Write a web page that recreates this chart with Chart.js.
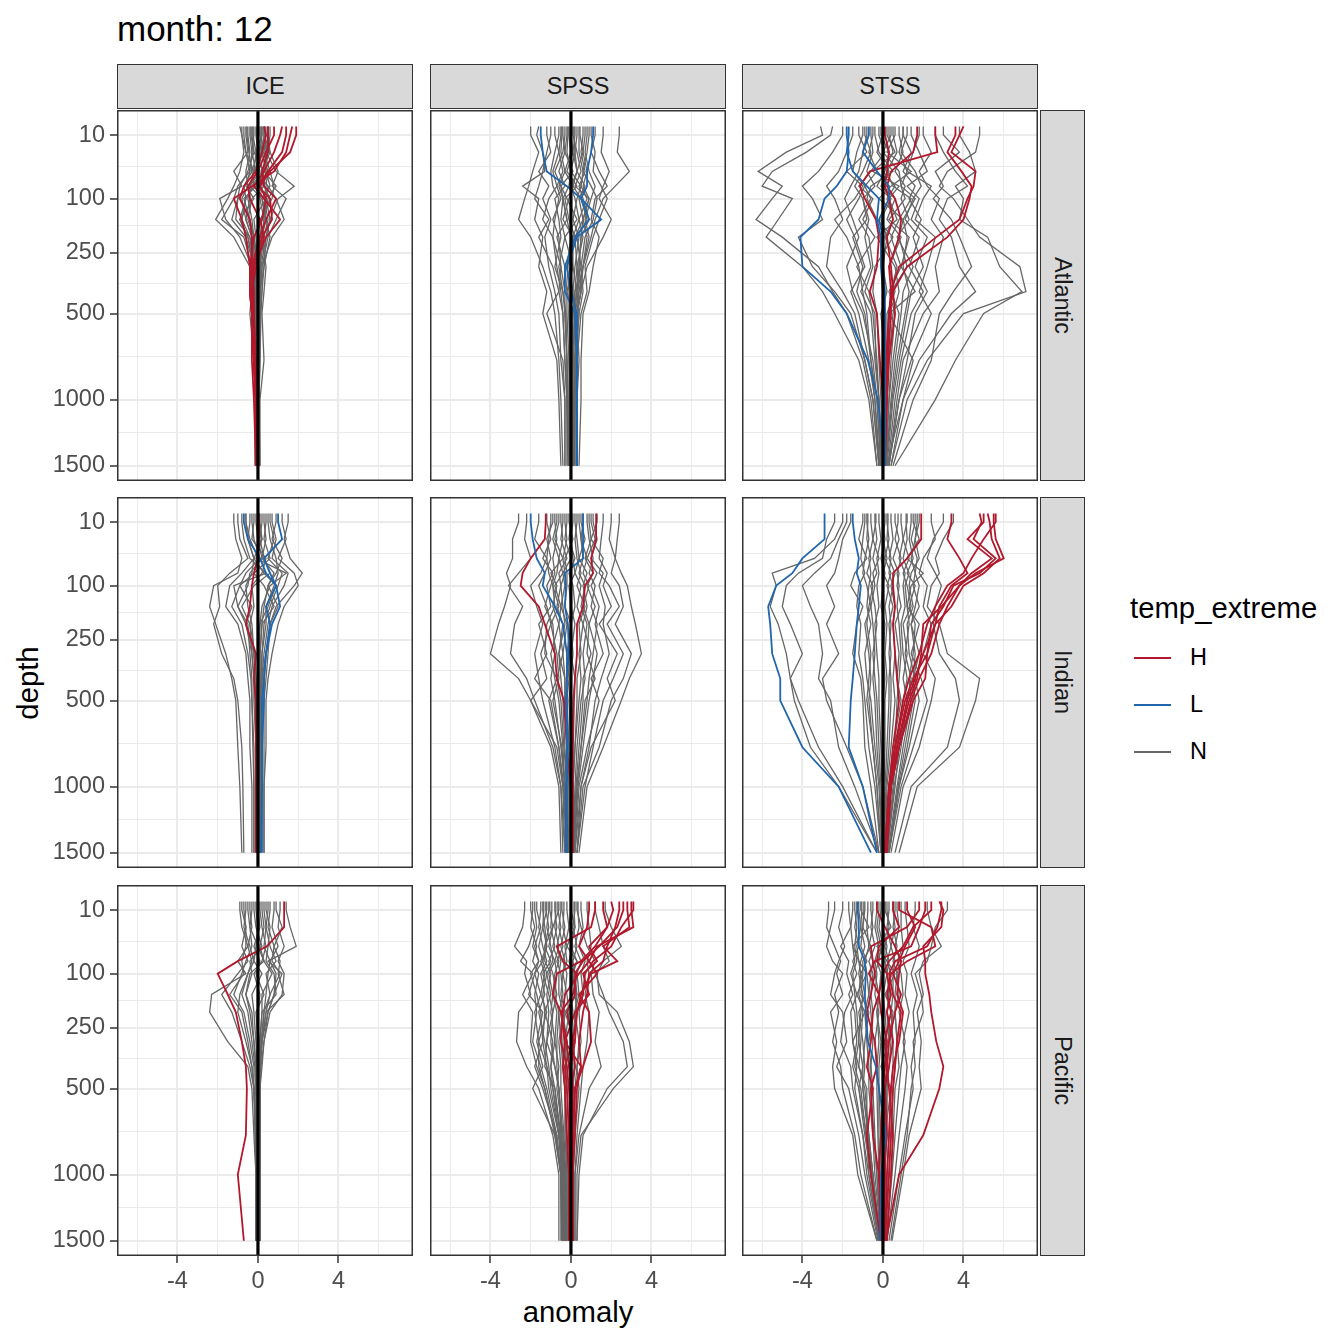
<!DOCTYPE html>
<html>
<head>
<meta charset="utf-8">
<script src="https://cdn.jsdelivr.net/npm/chart.js@4.4.1/dist/chart.umd.min.js"></script>
<style>
  body { margin: 0; width: 1344px; height: 1344px; background: #fff; position: relative; overflow: hidden;
         font-family: "Liberation Sans", Arial, sans-serif; }
  .box { position: absolute; }
  .strip { position: absolute; background: #d9d9d9; border: 1.5px solid #333; box-sizing: border-box;
           display: flex; align-items: center; justify-content: center; font-size: 23.5px; color: #1a1a1a; }
  .strip.right span { writing-mode: vertical-rl; }
  .txt { position: absolute; white-space: nowrap; line-height: 1; }
  .key { position: absolute; width: 37px; height: 2px; }
</style>
</head>
<body>
<div class="txt" style="left:117px; top:11px; font-size:35px; color:#000;">month: 12</div>
<div class="txt" style="left:28px; top:683px; font-size:29.3px; transform:translate(-50%,-50%) rotate(-90deg);">depth</div>
<div class="txt" style="left:578px; top:1312px; font-size:29.3px; transform:translate(-50%,-50%);">anomaly</div>
<div class="txt" style="left:1130px; top:608px; font-size:29.3px; transform:translateY(-50%);">temp_extreme</div>
<div id="legend"></div>
<div id="grid"></div>
<script>
// depth levels (m) shared by every profile
const depth = [5, 10, 25, 50, 75, 100, 150, 200, 300, 400, 500, 750, 1000, 1500];
const zones = ['ICE', 'SPSS', 'STSS'];
const regions = ['Atlantic', 'Indian', 'Pacific'];
const xTicks = [-4, 0, 4];
const xMinor = [-6, -2, 2, 6];
const yTicks = [10, 100, 250, 500, 1000, 1500];
const extremes = ['H', 'L', 'N'];
const colors = { H: '#b2182b', L: '#2166ac', N: '#666666' };

// ---- ICE / Atlantic
const iceAtlanticN = [
  [-0.8,-0.8,-0.7,-0.9,-1.2,-1.5,-2.1,-1.2,-0.4,-0.2,-0.2,-0.15,-0.1,-0.1],
  [-0.6,-0.6,-0.5,-1.2,-0.8,-1.9,-1.6,-0.9,-0.3,-0.3,-0.2,-0.1,-0.1,-0.05],
  [0.5,0.5,0.4,0.9,1.8,1.0,0.6,0.4,0.3,0.2,0.15,0.1,0.05,0.05],
  [0.3,0.3,0.6,1.0,0.7,1.4,0.9,0.5,0.2,0.1,0.1,0.1,0.05,0.1],
  [-0.3,-0.3,-0.2,-0.5,-0.9,-1.0,-1.3,-0.6,-0.2,-0.1,-0.1,0,0,-0.05],
  [0.1,0.1,0.2,0.4,0.3,0.6,0.2,0.1,0.1,0.05,0,0,0,0],
  [-0.1,-0.1,0,-0.3,-0.2,-0.6,-0.8,-0.4,-0.1,-0.1,-0.05,-0.05,0,0],
  [0.6,0.6,0.5,0.3,0.9,0.5,0.3,0.2,0.4,0.3,0.2,0.3,0.1,0.1],
  [-0.9,-0.8,-0.6,-0.4,-1.0,-1.2,-1.8,-0.7,-0.3,-0.3,-0.4,-0.2,-0.15,-0.15],
  [0.2,0.2,-0.1,0.1,-0.4,0.2,0.4,0.6,0.3,0.1,0.1,0,0.05,0],
  [-0.4,-0.4,-0.3,-0.1,0.3,-0.3,-0.5,-0.2,0,-0.1,0,0,0,0],
  [0.4,0.4,0.3,-0.2,0.5,0.9,1.3,0.7,0.2,0.2,0.1,0.05,0,0.05],
  [-0.5,-0.5,-0.4,-0.6,-0.5,-0.8,-0.6,-0.3,-0.15,-0.1,-0.1,-0.05,-0.05,-0.05],
  [0.0,0.0,0.1,0.2,-0.3,-0.5,-0.3,-0.2,0.05,0,0,0,0,0],
  [0.3,0.3,0.2,0.5,0.4,0.3,0.5,0.3,0.1,0.1,0.05,0.05,0.05,0.05],
  [-0.2,-0.2,-0.3,-0.4,-0.6,-0.2,-0.9,-0.5,-0.2,-0.15,-0.1,-0.1,-0.05,-0.05],
  [0.15,0.15,0.3,0.6,0.8,0.7,0.1,0.0,-0.1,0,0.05,0,0,0],
  [-0.7,-0.7,-0.6,-0.2,-0.4,-1.0,-1.1,-0.4,-0.25,-0.2,-0.15,-0.1,-0.1,-0.1],
  [0.5,0.5,0.6,0.2,0.1,0.4,0.6,0.4,0.15,0.1,0.1,0.05,0.05,0.05],
  [-0.05,-0.05,0.0,-0.1,0.5,0.4,-0.2,-0.1,0,-0.05,0,0,0,0],
  [0.2,0.2,0.1,0.0,-0.1,-0.7,-0.4,-0.2,-0.1,-0.05,-0.05,-0.05,0,0],
  [-0.35,-0.35,-0.2,0.3,0.2,0.1,0.3,0.2,0.05,0.05,0,0,0,0],
  [-0.25,-0.25,-0.1,-0.2,-0.4,-0.4,-0.6,-0.3,-0.1,-0.1,-0.05,-0.05,0,0],
  [0.35,0.35,0.4,0.4,0.6,0.2,0.4,0.2,0.1,0.05,0.05,0.05,0.05,0.05],
  [-0.55,-0.55,-0.45,-0.3,-0.7,-0.6,-0.9,-0.5,-0.2,-0.15,-0.1,-0.1,-0.05,-0.05]
];
const iceAtlanticH = [
  [1.9,1.9,1.6,0.6,0.1,0.4,0.2,-0.2,-0.4,-0.4,-0.3,-0.2,-0.1,-0.1],
  [1.7,1.6,1.4,0.8,-0.3,-1.2,-0.8,-0.6,-0.4,-0.4,-0.3,-0.3,-0.2,-0.1],
  [1.2,1.1,0.8,0.3,-0.2,0.3,1.1,0.4,-0.2,-0.3,-0.2,-0.2,-0.1,-0.1],
  [0.8,0.8,0.4,0.0,-0.5,-0.4,0.1,0.3,-0.1,-0.3,-0.3,-0.2,-0.1,0],
  [0.5,0.5,0.5,0.2,0.3,0.9,0.4,0.1,-0.3,-0.2,-0.2,-0.1,-0.1,0],
  [0.3,0.4,0.2,-0.1,-0.7,-0.9,-0.4,-0.3,-0.3,-0.4,-0.3,-0.2,-0.1,-0.1],
  [1.4,1.4,1.2,0.5,0.0,0.6,0.7,0.2,-0.2,-0.3,-0.2,-0.2,-0.1,-0.05]
];
const iceAtlanticL = [];

// ---- SPSS / Atlantic
const spssAtlanticN = [
  [-2.0,-2.0,-1.6,-1.9,-2.1,-2.3,-2.6,-2.0,-1.4,-1.0,-0.8,-0.6,-0.5,-0.4],
  [-1.6,-1.7,-1.4,-1.3,-2.4,-1.6,-1.8,-1.4,-1.6,-1.2,-1.4,-0.7,-0.6,-0.5],
  [2.4,2.4,2.3,2.9,2.2,1.6,1.2,1.0,0.6,0.3,0.4,0.2,0.2,0.2],
  [1.6,1.6,1.5,1.9,1.6,1.4,2.0,1.6,0.8,0.5,0.3,0.4,0.3,0.3],
  [1.2,1.2,1.0,1.4,1.8,1.2,1.0,1.4,1.1,0.9,0.6,0.5,0.5,0.4],
  [-1.2,-1.2,-1.0,-1.6,-1.1,-1.4,-1.0,-1.3,-1.1,-0.8,-0.6,-0.5,-0.3,-0.3],
  [-0.8,-0.8,-0.6,-0.9,-0.7,-1.1,-1.4,-0.9,-0.7,-0.5,-0.4,-0.3,-0.2,-0.2],
  [0.8,0.8,0.7,0.9,1.2,1.0,0.7,0.9,0.6,0.5,0.3,0.3,0.2,0.2],
  [-0.4,-0.4,-0.3,-0.6,-0.3,-0.8,-0.6,-0.5,-0.8,-0.4,-0.3,-0.2,-0.2,-0.1],
  [0.4,0.4,0.4,0.6,0.5,0.8,0.4,0.6,0.3,0.4,0.2,0.1,0.1,0.1],
  [0,0,0.1,-0.2,0.3,-0.3,-0.1,0.2,-0.2,0,-0.1,0,0,0],
  [-0.2,-0.2,-0.3,0.1,-0.5,-0.2,0.3,-0.3,0.1,-0.2,0.1,-0.1,0,-0.05],
  [0.2,0.2,0.1,0.3,0.1,0.5,0.8,0.3,0.5,0.2,0.2,0.1,0.1,0.1],
  [-1.0,-1.0,-1.2,-1.4,-1.6,-1.8,-1.1,-1.6,-0.9,-0.6,-1.2,-0.4,-0.3,-0.3],
  [1.0,1.0,1.2,1.1,1.5,1.8,1.4,1.1,0.7,0.8,0.5,0.3,0.2,0.15],
  [-0.5,-0.5,-0.6,-0.4,-0.7,-0.5,-0.9,-0.6,-0.5,-0.3,-0.3,-0.2,-0.15,-0.1],
  [0.6,0.6,0.5,0.7,0.4,0.6,0.9,0.5,0.4,0.3,0.2,0.2,0.15,0.1],
  [-0.1,-0.1,0.0,-0.3,0.1,-0.1,-0.4,0.1,-0.1,0.1,0,0,0,0],
  [0.3,0.3,0.2,0.0,0.5,0.3,0.1,0.4,0.2,0.1,0.2,0.1,0.05,0.05],
  [-0.3,-0.3,-0.4,-0.8,-0.5,-0.4,-0.2,-0.7,-0.3,-0.2,-0.2,-0.1,-0.1,-0.1],
  [0.1,0.1,0.3,0.5,0.2,0.9,0.6,0.2,0.3,0.2,0.1,0.05,0.05,0],
  [-0.6,-0.6,-0.8,-1.0,-0.9,-0.6,-0.8,-0.9,-0.5,-0.6,-0.4,-0.3,-0.2,-0.15],
  [0.9,0.9,0.8,0.6,1.0,1.3,1.1,0.7,0.5,0.6,0.4,0.25,0.2,0.15],
  [-0.45,-0.45,-0.5,-0.3,-0.6,-0.4,-0.5,-0.3,-0.6,-0.4,-0.25,-0.2,-0.15,-0.1],
  [0.45,0.45,0.6,0.3,0.7,0.4,0.6,0.5,0.4,0.5,0.3,0.2,0.15,0.1],
  [0.7,0.7,0.6,0.8,0.6,0.9,0.6,0.8,0.6,0.4,0.3,0.2,0.15,0.1],
  [-0.15,-0.15,-0.2,0.0,-0.1,-0.4,-0.2,0.0,-0.2,-0.1,-0.1,-0.05,-0.05,-0.05],
  [0.15,0.15,0.2,0.3,0.0,0.2,0.4,0.1,0.1,0.3,0.1,0.1,0.05,0.05]
];
const spssAtlanticH = [];
const spssAtlanticL = [
  [-1.5,-1.5,-1.4,-1.2,-0.2,0.5,0.9,0.2,-0.3,-0.3,0.2,0.3,0.3,0.3],
  [1.1,1.1,1.0,0.8,0.8,0.5,1.5,0.3,-0.2,0,0.3,0.3,0.3,0.3]
];

// ---- STSS / Atlantic
const stssAtlanticN = [
  [-3.1,-3.0,-4.8,-6.2,-5.0,-5.5,-6.3,-5.0,-3.2,-2.5,-1.8,-1.0,-0.6,-0.3],
  [-2.5,-2.6,-3.8,-5.5,-6.0,-4.5,-5.2,-5.8,-4.0,-3.0,-2.4,-1.2,-0.7,-0.3],
  [-2.0,-2.0,-2.5,-3.2,-4.0,-3.5,-3.0,-4.2,-3.5,-2.4,-1.6,-0.9,-0.5,-0.2],
  [4.8,4.8,4.6,3.2,2.8,3.5,4.2,4.8,6.8,7.1,4.0,2.2,1.2,0.4],
  [3.8,3.8,4.3,4.6,3.6,4.0,3.8,5.2,5.8,6.9,5.0,3.6,2.6,0.6],
  [3.0,3.0,3.8,2.6,3.0,2.5,3.4,3.8,4.4,3.5,2.8,2.4,1.5,0.5],
  [-1.5,-1.5,-1.8,-2.2,-2.8,-2.4,-2.0,-2.6,-2.8,-2.0,-1.4,-0.9,-0.5,-0.2],
  [2.0,2.0,2.4,1.8,2.2,2.8,2.4,3.0,2.6,2.8,2.0,1.0,0.7,0.3],
  [-0.8,-0.8,-1.0,-1.2,-1.6,-1.9,-1.5,-1.2,-1.8,-1.5,-1.0,-0.5,-0.3,-0.1],
  [1.0,1.0,1.4,1.0,1.6,1.3,1.9,1.5,2.0,1.4,1.2,0.8,0.5,0.2],
  [0.2,0.2,0.6,-0.5,0.8,0.3,0.7,-0.3,0.6,0.8,0.5,0.3,0.2,0.1],
  [-0.4,-0.4,-0.2,0.5,-0.6,-0.8,-0.3,0.5,-0.4,-0.5,-0.3,-0.2,-0.1,-0.05],
  [0.6,0.6,0.2,1.4,0.4,-0.2,1.0,0.8,1.2,0.4,0.8,0.5,0.3,0.15],
  [-1.2,-1.2,-0.8,-1.8,-1.0,-1.4,-2.4,-1.8,-1.2,-1.0,-0.8,-0.6,-0.4,-0.2],
  [1.4,1.4,1.8,2.2,1.2,1.8,1.4,2.2,1.6,2.2,1.6,1.2,0.8,0.3],
  [2.6,2.6,3.0,3.6,4.2,3.2,2.8,3.4,3.8,4.6,3.4,1.8,1.0,0.4],
  [-0.1,-0.1,0.3,0.1,-0.3,0.4,-0.1,0.2,0,0.2,-0.1,0.1,0,0],
  [0.4,0.4,0,0.8,0.9,1.1,0.3,1.3,0.9,1.6,0.3,1.5,1.0,0.2],
  [-0.6,-0.6,-0.5,-0.8,-0.4,-1.0,-0.7,-0.9,-0.6,-1.1,-0.6,-0.4,-0.2,-0.1],
  [0.8,0.8,1.0,0.6,1.1,0.9,1.3,0.7,1.5,1.0,0.9,0.6,0.4,0.15],
  [0.0,0.0,-0.3,0.3,-0.1,0.6,0.2,0.9,0.3,0.6,0.2,0.2,0.1,0.05],
  [1.2,1.2,0.9,1.6,1.9,1.5,1.1,1.8,1.3,2.0,1.4,0.9,0.6,0.25],
  [-0.2,-0.2,0.1,-0.6,-1.2,-0.5,-1.0,-0.4,-1.3,-0.7,-0.5,-0.3,-0.2,-0.05],
  [0.5,0.5,0.7,0.2,0.5,1.4,0.8,0.4,0.9,0.3,0.6,0.4,0.3,0.1],
  [-1.0,-1.0,-1.3,-1.5,-0.9,-1.2,-1.8,-1.4,-0.9,-1.6,-1.2,-0.7,-0.4,-0.15],
  [1.8,1.8,1.5,1.2,2.4,2.0,1.6,2.6,2.2,1.8,2.4,1.4,0.8,0.3],
  [0.3,0.3,0.5,0.0,0.6,0.2,0.5,0.1,0.7,0.4,0.3,0.25,0.15,0.05],
  [-0.5,-0.5,-0.7,-0.3,-0.9,-0.6,-1.2,-0.7,-0.5,-0.9,-0.4,-0.35,-0.2,-0.05],
  [1.0,1.0,0.8,1.2,0.9,1.6,1.0,1.2,1.0,1.3,1.1,0.7,0.45,0.15],
  [-0.9,-0.9,-0.6,-1.0,-1.4,-1.0,-0.8,-1.5,-1.0,-1.3,-0.9,-0.6,-0.3,-0.1]
];
const stssAtlanticH = [
  [2.6,2.6,2.7,-0.65,-1.15,-0.9,-0.35,-0.2,-0.3,-0.65,-0.3,-0.15,0,0.05],
  [1.7,1.7,1.5,0.4,0.2,0.6,0.9,0.8,0.3,0.4,0.4,0.25,0.2,0.1],
  [4.0,3.8,3.4,4.6,4.5,4.2,3.8,2.65,0.8,0.4,0.3,0.15,0.1,0],
  [3.6,3.6,3.2,3.9,4.4,4.3,4.0,3.2,1.2,0.5,0.3,0.2,0.1,0],
  [0.1,0.1,0.3,0.2,0.1,0.3,0.5,0.2,0.4,0.5,0.6,0.3,0.2,0.05]
];
const stssAtlanticL = [
  [-1.8,-1.8,-1.7,-1.8,-2.3,-2.9,-3.2,-4.1,-4.0,-2.6,-1.8,-0.75,-0.25,0.1],
  [-0.7,-0.7,-1.0,-0.3,0.3,0.3,-0.2,0,0,0.1,0.1,0.1,0.1,0.1],
  [-1.7,-1.7,-1.8,-1.5,-0.8,-0.2,-0.3,-0.1,-0.1,0,0.1,0.1,0.05,0.05]
];

// ---- ICE / Indian
const iceIndianN = [
  [-1.2,-1.2,-1.1,-0.8,-1.0,-2.2,-2.4,-2.1,-1.6,-1.3,-1.1,-1.0,-0.9,-0.8],
  [-1.0,-1.0,-0.9,-0.5,-1.4,-2.0,-1.9,-2.2,-1.8,-1.2,-1.0,-0.8,-0.75,-0.7],
  [1.5,1.5,1.3,1.6,2.2,1.8,0.9,0.6,0.5,0.4,0.3,0.3,0.3,0.3],
  [1.2,1.2,1.4,1.0,1.8,2.0,1.3,1.0,0.7,0.5,0.4,0.4,0.3,0.3],
  [-0.6,-0.6,-0.5,-0.2,-0.8,-1.4,-1.6,-1.0,-0.6,-0.5,-0.4,-0.4,-0.3,-0.3],
  [0.6,0.6,0.8,0.5,1.2,1.0,0.6,0.3,0.2,0.2,0.1,0.1,0.1,0.1],
  [0.2,0.2,0.1,0.3,0.6,-0.2,-0.8,-0.4,-0.3,-0.2,-0.2,-0.1,-0.1,-0.1],
  [-0.3,-0.3,-0.2,0.1,-0.6,-0.9,-0.3,-0.6,-0.2,-0.1,-0.1,0,0,0],
  [0.9,0.9,0.7,1.2,0.9,0.5,1.0,0.6,0.4,0.2,0.2,0.1,0.1,0.1],
  [-0.8,-0.8,-0.7,-0.4,0.4,-1.2,-1.0,-0.5,-0.4,-0.3,-0.3,-0.2,-0.2,-0.2],
  [0,0,0.2,-0.1,1.4,0.6,0.2,0.1,0,0,0,0,0,0],
  [0.4,0.4,0.3,0.6,-0.2,0.3,0.8,0.2,0.1,0.1,0.1,0.05,0.05,0.05],
  [-0.4,-0.4,-0.5,-0.2,-0.3,-0.6,-0.5,-0.3,-0.2,-0.15,-0.1,-0.1,-0.1,-0.1],
  [0.3,0.3,0.4,0.2,0.8,0.5,0.3,0.2,0.1,0.1,0.1,0.05,0.05,0.05],
  [-0.1,-0.1,0.0,0.2,-0.4,-0.5,-1.0,-0.6,-0.3,-0.2,-0.15,-0.1,-0.1,-0.05],
  [0.5,0.5,0.6,0.9,1.0,0.8,0.4,0.4,0.2,0.15,0.1,0.1,0.1,0.1],
  [-0.6,-0.6,-0.4,0.0,-0.2,-0.9,-1.3,-0.8,-0.5,-0.35,-0.3,-0.25,-0.2,-0.2],
  [0.1,0.1,0.2,-0.2,0.3,0.9,0.5,0.1,0.05,0.05,0,0,0,0],
  [0.7,0.7,0.9,0.7,1.5,1.3,0.7,0.5,0.3,0.2,0.2,0.15,0.15,0.15],
  [-0.2,-0.2,-0.3,0.4,0.2,-0.3,-0.2,-0.4,-0.15,-0.1,-0.05,-0.05,-0.05,-0.05]
];
const iceIndianH = [
  [0.05,0.05,0.05,0,-0.2,-0.3,-0.4,-0.6,-0.1,-0.2,-0.1,-0.1,-0.1,-0.1]
];
const iceIndianL = [
  [-0.7,-0.7,-0.5,0.1,0.4,0.9,1.1,0.7,0.4,0.3,0.3,0.2,0.2,0.2],
  [1.0,1.0,1.2,0.3,0.6,0.9,0.4,0.6,0.4,0.3,0.2,0.2,0.2,0.15]
];

// ---- SPSS / Indian
const spssIndianN = [
  [-2.6,-2.6,-2.9,-2.9,-3.2,-3.0,-3.3,-3.6,-4.0,-2.6,-2.0,-1.0,-0.6,-0.5],
  [-2.2,-2.2,-2.3,-2.0,-2.6,-3.1,-2.4,-2.8,-3.0,-2.2,-1.8,-0.9,-0.5,-0.4],
  [2.4,2.4,2.3,2.2,2.5,2.8,3.0,3.2,3.5,2.9,2.5,1.6,0.8,0.4],
  [2.0,2.0,1.9,2.2,2.0,2.4,2.6,2.2,3.0,2.6,2.0,1.4,0.6,0.3],
  [1.6,1.6,1.5,1.4,1.8,1.6,2.0,1.4,2.3,1.8,2.2,1.0,0.5,0.3],
  [-1.6,-1.6,-1.8,-1.2,-1.5,-2.0,-1.7,-1.4,-1.8,-1.6,-1.4,-0.8,-0.5,-0.3],
  [-1.2,-1.2,-1.0,-1.4,-0.9,-1.2,-1.0,-1.6,-1.2,-1.8,-1.0,-0.6,-0.4,-0.3],
  [1.0,1.0,1.2,0.8,1.3,1.0,1.4,1.2,1.6,1.0,1.4,0.8,0.4,0.2],
  [-0.6,-0.6,-0.8,-0.4,-1.0,-0.7,-0.9,-0.6,-1.0,-0.8,-0.6,-0.4,-0.3,-0.2],
  [0.6,0.6,0.5,0.8,0.6,0.9,0.6,0.9,0.8,1.2,0.7,0.5,0.3,0.15],
  [-0.2,-0.2,-0.3,0,-0.4,-0.3,-0.5,-0.2,-0.4,-0.3,-0.3,-0.2,-0.1,-0.1],
  [0.2,0.2,0.3,0.4,0.2,0.5,0.3,0.6,0.4,0.5,0.4,0.2,0.1,0.1],
  [1.3,1.3,1.0,1.6,1.4,1.9,2.4,1.8,2.6,2.1,1.6,1.1,0.7,0.3],
  [-0.9,-0.9,-1.2,-1.0,-1.3,-1.6,-1.2,-1.0,-1.5,-1.2,-2.0,-0.7,-0.4,-0.2],
  [0,0,-0.1,0.2,-0.1,0.1,0.2,0,0.1,0,-0.1,0,0,0],
  [-0.4,-0.4,-0.5,-0.2,-0.6,-0.5,-0.7,-0.4,-0.6,-0.5,-0.4,-0.3,-0.2,-0.15],
  [0.4,0.4,0.5,0.6,0.4,0.7,0.5,0.8,0.6,0.7,0.5,0.3,0.2,0.1],
  [0.8,0.8,0.9,1.1,0.9,1.2,1.0,1.3,1.1,0.9,0.8,0.5,0.3,0.15],
  [-0.8,-0.8,-0.7,-0.9,-0.8,-1.0,-1.3,-0.9,-0.8,-1.0,-0.8,-0.5,-0.3,-0.2],
  [0.1,0.1,0.0,0.1,0.2,-0.1,0.0,0.2,0.0,0.2,0.1,0.05,0.05,0],
  [-0.1,-0.1,0.1,-0.3,-0.2,-0.2,-0.3,0.0,-0.2,-0.1,-0.2,-0.1,-0.05,-0.05],
  [1.1,1.1,1.3,1.0,1.6,1.4,1.7,1.6,1.9,1.5,1.2,0.9,0.5,0.2],
  [-1.0,-1.0,-1.1,-1.2,-1.1,-0.9,-0.8,-1.2,-1.3,-0.7,-1.1,-0.6,-0.35,-0.2],
  [-0.5,-0.5,-0.4,-0.6,-0.4,-0.8,-0.5,-0.6,-0.4,-0.7,-0.5,-0.35,-0.2,-0.1],
  [0.5,0.5,0.7,0.4,0.8,0.6,0.8,0.6,1.0,0.6,0.6,0.4,0.25,0.1],
  [-0.3,-0.3,-0.2,-0.4,-0.3,-0.5,-0.4,-0.3,-0.6,-0.3,-0.3,-0.2,-0.1,-0.05],
  [0.3,0.3,0.2,0.3,0.5,0.3,0.7,0.4,0.5,0.3,0.3,0.2,0.1,0.05],
  [0.9,0.9,1.0,0.7,1.1,0.8,1.2,0.9,1.3,1.1,0.9,0.6,0.35,0.15],
  [-0.7,-0.7,-0.9,-0.6,-0.7,-0.9,-0.6,-1.0,-0.7,-0.6,-0.9,-0.45,-0.3,-0.15]
];
const spssIndianH = [
  [-1.25,-1.25,-1.3,-2.0,-2.4,-2.5,-1.6,-1.3,-0.8,-0.7,-0.35,-0.2,0,0],
  [1.25,1.25,1.25,1.0,1.1,0.7,0.6,0.3,0.3,0.2,0.15,0.1,0.1,0.1]
];
const spssIndianL = [
  [-2.0,-2.0,-1.9,-1.7,-1.3,-1.4,-0.8,-0.4,-0.2,-0.2,-0.25,-0.2,-0.25,-0.25],
  [0.6,0.6,0.6,0.6,-0.3,-0.25,-0.3,-0.15,-0.1,-0.2,-0.2,-0.15,-0.2,-0.2]
];

// ---- STSS / Indian
const stssIndianN = [
  [-2.0,-2.0,-2.4,-3.4,-5.5,-5.3,-5.6,-5.2,-4.8,-4.6,-4.4,-3.6,-2.2,-0.3],
  [-2.4,-2.4,-2.8,-3.0,-4.2,-4.8,-5.0,-4.6,-4.0,-4.6,-4.2,-3.2,-2.0,-0.3],
  [-1.8,-1.8,-2.2,-2.6,-3.4,-4.0,-3.6,-3.2,-3.0,-3.2,-2.6,-2.2,-1.4,-0.2],
  [-1.6,-1.6,-2.0,-2.2,-2.4,-2.8,-2.4,-2.8,-2.2,-3.0,-2.8,-1.8,-1.0,-0.2],
  [3.5,3.5,3.0,2.6,2.8,2.4,2.2,2.8,3.2,4.8,4.6,3.8,1.7,0.8],
  [3.0,3.0,2.5,2.2,2.6,2.9,2.6,2.5,2.8,3.6,3.8,3.2,1.4,0.6],
  [2.4,2.4,2.6,2.0,1.8,2.2,2.0,2.4,2.0,2.6,2.4,1.8,1.0,0.4],
  [1.8,1.8,1.6,1.4,1.6,1.8,1.6,1.4,1.8,1.5,1.6,1.2,0.8,0.3],
  [1.2,1.2,1.0,1.3,1.0,1.2,1.4,1.0,1.2,1.0,1.2,0.8,0.6,0.2],
  [0.6,0.6,0.8,0.5,0.8,0.7,0.9,0.6,0.8,0.7,0.9,0.5,0.3,0.1],
  [-0.8,-0.8,-0.7,-0.9,-1.0,-0.8,-0.6,-0.9,-0.7,-0.6,-0.7,-0.5,-0.3,-0.1],
  [-0.4,-0.4,-0.3,-0.5,-0.3,-0.6,-0.4,-0.3,-0.5,-0.4,-0.3,-0.2,-0.1,0],
  [0.2,0.2,0.3,0.1,0.4,0.2,0.5,0.3,0.4,0.3,0.3,0.2,0.1,0.05],
  [-1.0,-1.0,-1.2,-0.8,-1.4,-1.6,-1.0,-1.3,-1.5,-1.1,-1.0,-0.9,-0.6,-0.2],
  [1.5,1.5,1.8,1.2,2.0,1.4,1.2,1.8,1.4,1.9,2.2,1.5,0.9,0.3],
  [0,0,0.1,-0.1,0.1,0,-0.1,0.1,0,0.1,0,0,0,0],
  [-0.6,-0.6,-0.5,-0.7,-0.6,-0.7,-0.8,-0.6,-0.9,-0.8,-0.6,-0.4,-0.2,-0.05],
  [0.4,0.4,0.5,0.3,0.6,0.4,0.6,0.5,0.6,0.5,0.6,0.4,0.2,0.1],
  [0.9,0.9,1.0,0.8,1.1,1.0,1.1,0.9,1.0,1.2,1.0,0.7,0.5,0.2],
  [1.4,1.4,1.3,1.5,1.2,1.6,1.3,1.6,1.5,1.3,1.4,1.0,0.7,0.25],
  [-0.2,-0.2,-0.1,-0.3,-0.2,-0.3,-0.2,-0.4,-0.3,-0.2,-0.2,-0.1,-0.05,0],
  [0.1,0.1,0.0,0.2,0.0,0.3,0.1,0.2,0.1,0.2,0.1,0.1,0.05,0.05],
  [-0.9,-0.9,-1.0,-1.1,-0.9,-1.2,-1.3,-1.1,-1.2,-1.0,-0.9,-0.7,-0.4,-0.1],
  [1.7,1.7,1.6,1.8,1.4,1.3,1.5,1.2,1.3,1.6,1.8,1.3,0.8,0.3],
  [-0.75,-0.75,-0.8,-0.6,-0.8,-0.5,-0.7,-0.8,-0.6,-0.7,-0.8,-0.5,-0.3,-0.1],
  [0.25,0.25,0.2,0.4,0.3,0.5,0.3,0.4,0.3,0.4,0.4,0.3,0.15,0.05],
  [0.75,0.75,0.6,0.9,0.7,0.8,0.7,0.8,0.9,0.8,0.7,0.6,0.4,0.15],
  [1.15,1.15,1.2,1.0,1.3,1.1,1.2,1.3,1.1,1.4,1.2,0.9,0.55,0.2],
  [-0.35,-0.35,-0.5,-0.2,-0.5,-0.4,-0.6,-0.5,-0.4,-0.5,-0.4,-0.3,-0.15,-0.05],
  [1.6,1.6,1.4,1.7,1.6,1.5,1.8,1.4,1.6,1.5,1.5,1.1,0.75,0.3]
];
const stssIndianH = [
  [5.5,5.5,5.6,6.0,4.6,3.8,3.2,2.8,2.4,1.8,1.4,0.8,0.4,0.15],
  [5.2,5.3,5.4,5.8,5.0,4.0,3.4,2.6,2.0,1.6,1.2,0.7,0.35,0.15],
  [4.8,4.9,4.5,5.6,4.8,3.5,3.0,2.4,2.2,2.1,1.5,0.8,0.4,0.2],
  [5.6,5.6,5.0,4.4,4.0,3.2,2.6,2.2,1.8,1.3,1.0,0.6,0.3,0.1],
  [3.4,3.4,3.2,3.8,4.2,3.4,2.8,2.6,2.2,1.5,1.1,0.6,0.3,0.1],
  [1.9,1.9,1.9,1.2,0.5,0.5,0.6,0.5,0.6,0.7,0.8,0.5,0.3,0.1],
  [5.0,5.0,4.2,5.4,4.4,3.8,2.9,2.0,1.9,1.7,1.3,0.7,0.4,0.15]
];
const stssIndianL = [
  [-2.9,-2.9,-2.9,-4.0,-4.5,-5.3,-5.7,-5.6,-5.5,-5.1,-5.1,-4.0,-2.2,-0.6],
  [-1.5,-1.5,-1.4,-1.2,-1.3,-1.1,-1.2,-1.3,-1.4,-1.5,-1.6,-1.7,-1.0,-0.3]
];

// ---- ICE / Pacific
const icePacificN = [
  [1.4,1.4,1.6,1.9,0.5,1.2,0.8,0.5,0.2,0.1,0.1,0.1,0.1,0.1],
  [1.1,1.1,1.0,1.3,1.0,1.3,1.2,0.6,0.3,0.2,0.1,0.1,0.1,0.1],
  [-0.9,-0.9,-0.8,-0.5,-1.0,-0.6,-2.3,-2.4,-1.5,-0.5,-0.3,-0.2,-0.1,-0.1],
  [-0.8,-0.8,-0.6,-0.8,-0.5,-1.0,-1.8,-1.3,-0.8,-0.4,-0.2,-0.1,-0.1,-0.1],
  [0.8,0.8,0.7,1.0,0.6,0.9,0.8,0.5,0.3,0.15,0.1,0.1,0.1,0.1],
  [-0.5,-0.5,-0.4,-0.3,-0.6,-0.8,-1.2,-0.7,-0.4,-0.2,-0.2,-0.1,-0.1,-0.1],
  [0.5,0.5,0.4,0.6,0.9,0.4,0.6,0.3,0.2,0.1,0.1,0.05,0.05,0.05],
  [-0.2,-0.2,-0.1,0.2,-0.4,-0.3,-0.6,-0.4,-0.2,-0.1,-0.1,-0.05,-0.05,-0.05],
  [0.2,0.2,0.3,0.1,0.3,0.7,0.2,0.2,0.1,0.1,0.05,0.05,0.05,0.05],
  [-0.6,-0.6,-0.7,-0.4,-0.2,-0.5,-0.9,-1.0,-0.6,-0.3,-0.2,-0.1,-0.1,-0.1],
  [0,0,0.1,-0.2,0.1,-0.1,0.3,-0.1,0,0,0,0,0,0],
  [0.9,0.9,1.2,0.8,1.1,1.0,1.3,0.4,0.2,0.1,0.1,0.1,0.1,0.1],
  [-0.4,-0.4,-0.3,-0.5,-0.3,-0.5,-0.8,-0.5,-0.3,-0.15,-0.1,-0.1,-0.1,-0.1],
  [0.3,0.3,0.4,0.3,0.6,0.5,0.4,0.3,0.15,0.1,0.1,0.1,0.1,0.1],
  [-0.1,-0.1,0.0,-0.1,-0.2,0.2,-0.3,-0.2,-0.1,-0.05,-0.05,0,0,0],
  [0.6,0.6,0.5,0.8,0.7,1.1,0.6,0.4,0.2,0.1,0.1,0.1,0.1,0.1],
  [-0.7,-0.7,-0.6,-0.6,-0.8,-0.7,-1.4,-0.8,-0.5,-0.3,-0.2,-0.15,-0.1,-0.1],
  [0.1,0.1,0.2,0.4,0.2,-0.2,0.1,0.0,0.05,0.05,0.05,0.05,0.05,0.05],
  [-0.3,-0.3,-0.4,0.0,0.3,-0.4,-0.6,-0.3,-0.2,-0.1,-0.1,-0.05,-0.05,-0.05],
  [0.4,0.4,0.6,0.5,0.4,0.8,0.9,0.2,0.1,0.1,0.05,0.05,0.05,0.05]
];
const icePacificH = [
  [1.3,1.3,1.3,0.45,-1.0,-2.0,-1.5,-1.1,-0.8,-0.6,-0.55,-0.6,-1.0,-0.7]
];
const icePacificL = [];

// ---- SPSS / Pacific
const spssPacificN = [
  [-2.3,-2.3,-2.4,-2.8,-2.2,-2.3,-2.0,-2.6,-2.7,-2.2,-1.6,-0.9,-0.6,-0.6],
  [-2.0,-2.0,-1.8,-2.1,-2.5,-1.9,-2.4,-1.9,-2.0,-1.7,-1.3,-0.8,-0.5,-0.5],
  [-1.7,-1.7,-1.5,-1.8,-1.6,-2.0,-1.7,-1.5,-1.4,-1.8,-1.4,-0.7,-0.5,-0.4],
  [-1.4,-1.4,-1.3,-1.2,-1.5,-1.3,-1.5,-1.2,-1.6,-1.2,-1.1,-0.6,-0.4,-0.4],
  [-1.1,-1.1,-1.2,-1.0,-0.9,-1.2,-1.0,-1.3,-0.9,-1.0,-0.9,-0.5,-0.4,-0.3],
  [-0.8,-0.8,-0.7,-0.9,-0.6,-0.8,-0.9,-0.7,-0.8,-0.6,-0.7,-0.4,-0.3,-0.3],
  [-0.5,-0.5,-0.6,-0.4,-0.7,-0.5,-0.4,-0.6,-0.5,-0.4,-0.3,-0.3,-0.2,-0.2],
  [-0.2,-0.2,-0.1,-0.3,-0.2,-0.4,-0.2,-0.1,-0.3,-0.2,-0.2,-0.1,-0.1,-0.1],
  [0.2,0.2,0.1,0.3,0.1,0.2,0.3,0.2,0.1,0.2,0.1,0.1,0.05,0.05],
  [0.5,0.5,0.6,0.4,0.7,0.5,0.6,0.4,0.5,0.3,0.4,0.2,0.1,0.1],
  [0.8,0.8,0.9,1.0,0.8,0.9,0.7,0.9,0.8,0.6,0.5,0.3,0.2,0.2],
  [1.7,1.7,2.0,2.5,1.6,1.3,1.4,2.3,2.9,3.1,2.1,0.5,0.3,0.3],
  [1.2,1.2,1.4,1.6,1.9,1.2,1.6,1.9,2.6,2.8,1.8,0.6,0.4,0.3],
  [0.3,0.3,0.5,0.8,1.2,1.0,1.1,1.4,1.2,1.5,0.9,0.4,0.2,0.2],
  [-1.2,-1.2,-1.4,-1.6,-1.4,-1.8,-2.1,-1.4,-1.7,-1.4,-1.9,-0.8,-0.5,-0.4],
  [-0.6,-0.6,-0.9,-1.3,-1.0,-1.4,-1.1,-0.9,-1.2,-0.8,-0.6,-0.5,-0.3,-0.2],
  [0,0,0.2,-0.2,0.3,0,0.3,-0.3,0.2,-0.1,0.1,0,0,0],
  [-1.9,-1.9,-2.0,-1.7,-1.9,-1.6,-1.8,-1.7,-1.9,-1.5,-1.2,-0.7,-0.5,-0.45],
  [-1.5,-1.5,-1.6,-1.4,-1.2,-1.5,-1.3,-1.6,-1.3,-1.1,-1.0,-0.6,-0.45,-0.4],
  [-1.25,-1.25,-1.1,-1.3,-1.3,-1.0,-1.2,-1.1,-1.2,-1.3,-0.8,-0.55,-0.4,-0.35],
  [-0.95,-0.95,-1.0,-0.8,-1.1,-0.9,-0.7,-0.9,-1.0,-0.8,-0.6,-0.45,-0.35,-0.3],
  [-0.65,-0.65,-0.5,-0.7,-0.5,-0.6,-0.6,-0.4,-0.6,-0.5,-0.5,-0.35,-0.25,-0.25],
  [-0.35,-0.35,-0.4,-0.2,-0.4,-0.2,-0.3,-0.4,-0.2,-0.3,-0.3,-0.2,-0.15,-0.15],
  [0.0,0.0,-0.1,0.1,-0.1,0.1,0.0,0.1,0.0,0.0,-0.05,0,0,0],
  [0.35,0.35,0.4,0.2,0.5,0.3,0.4,0.2,0.4,0.3,0.2,0.15,0.1,0.1],
  [-1.8,-1.8,-1.7,-1.9,-1.6,-1.8,-1.5,-1.8,-1.6,-1.6,-1.3,-0.75,-0.5,-0.45],
  [-1.35,-1.35,-1.4,-1.2,-1.4,-1.2,-1.4,-1.3,-1.4,-1.2,-0.9,-0.6,-0.45,-0.35],
  [-1.05,-1.05,-0.9,-1.1,-0.8,-1.1,-0.9,-1.0,-0.8,-1.0,-0.8,-0.5,-0.35,-0.3],
  [-0.75,-0.75,-0.8,-0.6,-0.8,-0.7,-0.8,-0.6,-0.7,-0.7,-0.6,-0.4,-0.3,-0.25],
  [-0.45,-0.45,-0.3,-0.5,-0.3,-0.4,-0.5,-0.3,-0.4,-0.4,-0.3,-0.25,-0.2,-0.2],
  [0.15,0.15,0.2,0.0,0.3,0.1,0.2,0.3,0.1,0.1,0.1,0.05,0.05,0.05]
];
const spssPacificH = [
  [3.0,3.0,3.1,1.3,0.9,0.4,-0.3,-0.4,-0.5,-0.2,-0.1,0,0,0],
  [2.8,2.8,2.9,1.6,2.3,1.0,0.5,0.3,0.1,-0.3,-0.2,-0.1,0,0],
  [2.4,2.4,2.2,1.8,1.6,0.9,0.8,0.6,0.4,0.5,0.3,0.2,0.1,0.1],
  [2.0,2.1,1.8,1.2,0.5,-0.7,-0.9,-0.5,-0.3,-0.4,-0.3,-0.2,-0.1,-0.1],
  [1.6,1.6,1.8,0.9,1.3,0.6,0.9,0.2,-0.3,0.5,0.2,0.1,0.1,0.1],
  [1.2,1.2,1.0,-0.7,-0.4,0.3,0.1,-0.5,-0.2,-0.1,0,0,0,0.1],
  [0.9,0.9,0.8,0.4,0.9,1.3,0.4,0.9,1.0,0.6,0.2,0.1,0.05,0.05],
  [2.6,2.6,2.3,1.4,0.6,0.2,0.2,-0.2,0.1,0.2,0,-0.1,-0.05,-0.1],
  [3.1,3.1,2.5,2.0,1.1,0.7,0.6,0.3,0.2,0,0.1,0,0,0]
];
const spssPacificL = [];

// ---- STSS / Pacific
const stssPacificN = [
  [-2.7,-2.7,-2.8,-2.4,-2.1,-2.3,-2.0,-2.6,-2.3,-2.5,-2.4,-1.5,-1.25,-0.3],
  [-2.4,-2.4,-2.6,-2.8,-2.5,-2.0,-2.4,-2.2,-2.5,-2.1,-2.0,-1.4,-1.1,-0.3],
  [-2.0,-2.0,-2.2,-1.9,-2.2,-2.4,-2.6,-2.0,-1.8,-2.3,-1.7,-1.2,-0.9,-0.25],
  [-1.7,-1.7,-1.6,-2.1,-1.7,-1.8,-1.5,-1.9,-2.1,-1.6,-1.5,-1.0,-0.8,-0.2],
  [-1.3,-1.3,-1.4,-1.2,-1.5,-1.3,-1.7,-1.4,-1.3,-1.5,-1.2,-0.9,-0.6,-0.2],
  [-0.9,-0.9,-1.0,-1.1,-0.8,-1.1,-0.9,-1.2,-1.0,-0.9,-1.0,-0.7,-0.5,-0.15],
  [-0.5,-0.5,-0.6,-0.4,-0.7,-0.5,-0.6,-0.5,-0.7,-0.6,-0.5,-0.4,-0.3,-0.1],
  [-0.1,-0.1,-0.2,0,-0.3,-0.1,-0.2,-0.3,-0.1,-0.2,-0.2,-0.1,-0.1,0],
  [0.3,0.3,0.2,0.4,0.2,0.4,0.3,0.2,0.4,0.3,0.2,0.2,0.1,0.05],
  [0.7,0.7,0.8,0.6,0.9,0.7,0.8,0.6,0.7,0.8,0.6,0.5,0.4,0.15],
  [1.1,1.1,1.2,1.3,1.0,1.2,1.1,1.3,1.0,1.2,1.1,0.8,0.6,0.2],
  [1.6,1.6,1.5,1.8,1.6,1.4,1.7,1.5,1.6,1.4,1.5,1.1,0.8,0.3],
  [2.2,2.2,2.4,2.9,2.0,1.8,2.0,1.7,1.9,1.8,1.9,1.3,1.0,0.45],
  [3.2,3.2,2.6,2.4,2.2,1.6,1.9,2.0,1.5,1.6,1.4,1.2,0.9,0.4],
  [0.1,0.1,0.4,-0.3,0.2,0.6,0.1,0.5,0.3,-0.1,0.4,0.1,0,0],
  [-1.1,-1.1,-0.7,-1.5,-1.2,-0.8,-1.3,-0.9,-1.5,-1.2,-0.8,-0.8,-0.7,-0.2],
  [-1.2,-1.2,-1.1,-1.3,-1.2,-1.1,-1.2,-1.0,-1.1,-1.2,-0.9,-0.7,-0.5,-0.15],
  [-0.75,-0.75,-0.8,-0.7,-0.9,-0.8,-0.7,-0.9,-0.8,-0.7,-0.7,-0.5,-0.4,-0.1],
  [-0.3,-0.3,-0.4,-0.2,-0.4,-0.3,-0.4,-0.2,-0.4,-0.3,-0.3,-0.25,-0.2,-0.05],
  [0.1,0.1,0.0,0.2,0.1,0.2,0.0,0.1,0.2,0.1,0.0,0.05,0.05,0],
  [0.5,0.5,0.6,0.4,0.6,0.5,0.5,0.4,0.5,0.5,0.4,0.3,0.2,0.1],
  [-1.5,-1.5,-1.6,-1.5,-1.4,-1.6,-1.3,-1.6,-1.5,-1.3,-1.4,-1.0,-0.7,-0.2],
  [-0.95,-0.95,-1.0,-0.6,-1.0,-1.0,-1.1,-0.7,-0.9,-1.0,-1.2,-0.8,-0.55,-0.15],
  [0.9,0.9,0.9,1.0,0.7,0.9,1.0,0.8,1.1,0.9,0.8,0.6,0.45,0.15],
  [-1.05,-1.05,-1.1,-0.9,-1.1,-1.2,-1.0,-1.1,-1.2,-1.0,-1.0,-0.75,-0.5,-0.15],
  [-0.6,-0.6,-0.5,-0.7,-0.5,-0.6,-0.7,-0.6,-0.5,-0.6,-0.6,-0.45,-0.3,-0.1],
  [-0.2,-0.2,-0.3,-0.1,-0.2,-0.4,-0.2,-0.3,-0.2,-0.3,-0.2,-0.2,-0.15,-0.05],
  [0.2,0.2,0.3,0.1,0.3,0.2,0.3,0.2,0.3,0.2,0.2,0.15,0.1,0.05],
  [-1.4,-1.4,-1.3,-1.4,-1.3,-1.5,-1.4,-1.3,-1.2,-1.4,-1.1,-0.85,-0.6,-0.2],
  [0.6,0.6,0.5,0.7,0.5,0.7,0.6,0.6,0.7,0.6,0.5,0.4,0.3,0.1]
];
const stssPacificH = [
  [2.8,3.0,2.9,2.0,2.1,2.1,2.3,2.4,2.65,3.0,2.8,2.0,0.8,0.15],
  [2.9,2.9,2.7,2.2,0.6,0.3,0.5,0.9,0.7,0.6,0.5,0.4,0.3,0.1],
  [2.4,2.4,1.5,1.0,0.3,0.0,-0.2,-0.1,0.2,0.1,0.0,-0.1,-0.2,0],
  [1.8,1.8,1.2,-0.6,-0.5,-0.4,-0.6,-0.8,-0.4,-0.3,-0.6,-0.5,-0.2,-0.1],
  [0.5,0.5,0.8,-0.2,-0.3,0.2,0.4,0.2,0.5,0.3,0.1,0.2,0.0,0.1],
  [-0.3,-0.3,0.1,0.6,0.9,0.8,0.7,1.0,0.8,0.5,0.4,0.3,0.2,0.1],
  [1.2,1.2,1.6,1.1,0.8,0.5,0.9,0.6,0.3,0.2,0.3,0.5,0.4,0.2],
  [2.1,2.1,1.8,1.4,-0.4,-0.7,-0.2,-0.5,-0.6,-0.8,-0.5,-0.8,-0.6,-0.1],
  [0.8,0.8,2.4,2.6,1.2,0.4,0.2,0.4,0.1,0.2,0.1,0.1,0.1,0.05]
];
const stssPacificL = [
  [-1.25,-1.25,-1.2,-1.2,-0.9,-0.85,-0.9,-0.85,-0.75,-0.35,-0.2,0.15,-0.1,-0.15]
];

const panelData = {
  'ICE-Atlantic':  { N: iceAtlanticN,  H: iceAtlanticH,  L: iceAtlanticL },
  'SPSS-Atlantic': { N: spssAtlanticN, H: spssAtlanticH, L: spssAtlanticL },
  'STSS-Atlantic': { N: stssAtlanticN, H: stssAtlanticH, L: stssAtlanticL },
  'ICE-Indian':    { N: iceIndianN,    H: iceIndianH,    L: iceIndianL },
  'SPSS-Indian':   { N: spssIndianN,   H: spssIndianH,   L: spssIndianL },
  'STSS-Indian':   { N: stssIndianN,   H: stssIndianH,   L: stssIndianL },
  'ICE-Pacific':   { N: icePacificN,   H: icePacificH,   L: icePacificL },
  'SPSS-Pacific':  { N: spssPacificN,  H: spssPacificH,  L: spssPacificL },
  'STSS-Pacific':  { N: stssPacificN,  H: stssPacificH,  L: stssPacificL }
};

// square-root depth axis (ggplot's sqrt transform)
class SqrtScale extends Chart.LinearScale {
  getPixelForValue(v) {
    const a = Math.sqrt(this.min), b = Math.sqrt(this.max);
    return this.getPixelForDecimal((Math.sqrt(Math.max(v, 0)) - a) / (b - a));
  }
  getValueForPixel(p) {
    const a = Math.sqrt(this.min), b = Math.sqrt(this.max);
    const s = a + this.getDecimalForPixel(p) * (b - a);
    return s * s;
  }
}
SqrtScale.id = 'sqrt';
SqrtScale.defaults = Chart.LinearScale.defaults;
Chart.register(SqrtScale);

const panelBorder = {
  id: 'panelBorder',
  afterDraw(chart) {
    const { ctx, chartArea: a } = chart;
    ctx.save();
    ctx.strokeStyle = '#333333';
    ctx.lineWidth = 1.5;
    ctx.strokeRect(a.left + 0.75, a.top + 0.75, a.width - 1.5, a.height - 1.5);
    ctx.restore();
  }
};

const FONT = '"Liberation Sans", Arial, sans-serif';
const colX = [117, 430, 742];
const rowY = [110, 497, 885];
const PW = 296, PH = 371;
const xMin = -7.0, xMax = 7.7;
const yMin = 0.22, yMax = 1630;

// minor depth breaks halfway between majors in sqrt space
const yMinor = [];
for (let i = 0; i < yTicks.length - 1; i++) {
  const m = (Math.sqrt(yTicks[i]) + Math.sqrt(yTicks[i + 1])) / 2;
  yMinor.push(m * m);
}

const gridEl = document.getElementById('grid');

// strips
zones.forEach((z, c) => {
  const s = document.createElement('div');
  s.className = 'strip';
  s.style.cssText = `left:${colX[c]}px; top:64px; width:${PW}px; height:45px;`;
  s.textContent = z;
  gridEl.appendChild(s);
});
regions.forEach((r, i) => {
  const s = document.createElement('div');
  s.className = 'strip right';
  s.style.cssText = `left:1040px; top:${rowY[i]}px; width:45px; height:${PH}px;`;
  s.innerHTML = `<span>${r}</span>`;
  gridEl.appendChild(s);
});

function toPoints(profile) {
  return profile.map((v, i) => ({ x: v, y: depth[i] }));
}

function makePanel(c, r) {
  const key = zones[c] + '-' + regions[r];
  const d = panelData[key];
  const leftW = c === 0 ? 117 : 0;
  const bottomH = r === 2 ? 60 : 0;

  const box = document.createElement('div');
  box.className = 'box';
  box.style.cssText = `left:${colX[c] - leftW}px; top:${rowY[r]}px;`;
  const canvas = document.createElement('canvas');
  canvas.width = PW + leftW;
  canvas.height = PH + bottomH;
  box.appendChild(canvas);
  gridEl.appendChild(box);

  const datasets = [];
  // zero line on top
  datasets.push({ data: [{ x: 0, y: yMin }, { x: 0, y: yMax }], borderColor: '#000', borderWidth: 3.2 });
  d.L.forEach(p => datasets.push({ data: toPoints(p), borderColor: colors.L, borderWidth: 1.8 }));
  d.H.forEach(p => datasets.push({ data: toPoints(p), borderColor: colors.H, borderWidth: 1.8 }));
  d.N.forEach(p => datasets.push({ data: toPoints(p), borderColor: colors.N, borderWidth: 1.3 }));

  new Chart(canvas, {
    type: 'line',
    data: { datasets },
    options: {
      responsive: false,
      animation: false,
      events: [],
      layout: { padding: 0, autoPadding: false },
      elements: { point: { radius: 0 }, line: { tension: 0, fill: false } },
      plugins: { legend: { display: false }, tooltip: { enabled: false } },
      scales: {
        x: {
          type: 'linear', min: xMin, max: xMax,
          afterBuildTicks: s => { s.ticks = [...xMinor, ...xTicks].sort((a, b) => a - b).map(v => ({ value: v })); },
          afterFit: s => { s.height = bottomH; s.paddingLeft = 0; s.paddingRight = 0; },
          border: { display: false },
          grid: {
            color: '#ebebeb',
            lineWidth: ctx => xTicks.includes(ctx.tick.value) ? 2 : 1,
            drawTicks: r === 2, tickLength: 7, tickWidth: 1.5,
            tickColor: ctx => xTicks.includes(ctx.tick.value) ? '#333333' : 'rgba(0,0,0,0)'
          },
          ticks: {
            display: r === 2, autoSkip: false, maxRotation: 0, padding: 4,
            color: '#4d4d4d', font: { size: 23.5, family: FONT },
            callback: v => xTicks.includes(v) ? String(v) : ''
          }
        },
        y: {
          type: 'sqrt', reverse: true, min: yMin, max: yMax,
          afterBuildTicks: s => { s.ticks = [...yTicks, ...yMinor].sort((a, b) => a - b).map(v => ({ value: v })); },
          afterFit: s => { s.width = leftW; s.paddingTop = 0; s.paddingBottom = 0; },
          border: { display: false },
          grid: {
            color: '#ebebeb',
            lineWidth: ctx => yTicks.includes(ctx.tick.value) ? 2 : 1,
            drawTicks: c === 0, tickLength: 7, tickWidth: 1.5,
            tickColor: ctx => yTicks.includes(ctx.tick.value) ? '#333333' : 'rgba(0,0,0,0)'
          },
          ticks: {
            display: c === 0, autoSkip: false, padding: 5,
            color: '#4d4d4d', font: { size: 23.5, family: FONT },
            callback: v => yTicks.includes(v) ? String(v) : ''
          }
        }
      }
    },
    plugins: [panelBorder]
  });
}

for (let r = 0; r < 3; r++) for (let c = 0; c < 3; c++) makePanel(c, r);

// legend
const legendEl = document.getElementById('legend');
extremes.forEach((e, i) => {
  const y = 658 + i * 47;
  const k = document.createElement('div');
  k.className = 'key';
  k.style.cssText = `left:1134px; top:${y - 1}px; background:${colors[e]};`;
  legendEl.appendChild(k);
  const t = document.createElement('div');
  t.className = 'txt';
  t.style.cssText = `left:1190px; top:${y}px; font-size:23.5px; transform:translateY(-50%);`;
  t.textContent = e;
  legendEl.appendChild(t);
});
</script>
</body>
</html>
